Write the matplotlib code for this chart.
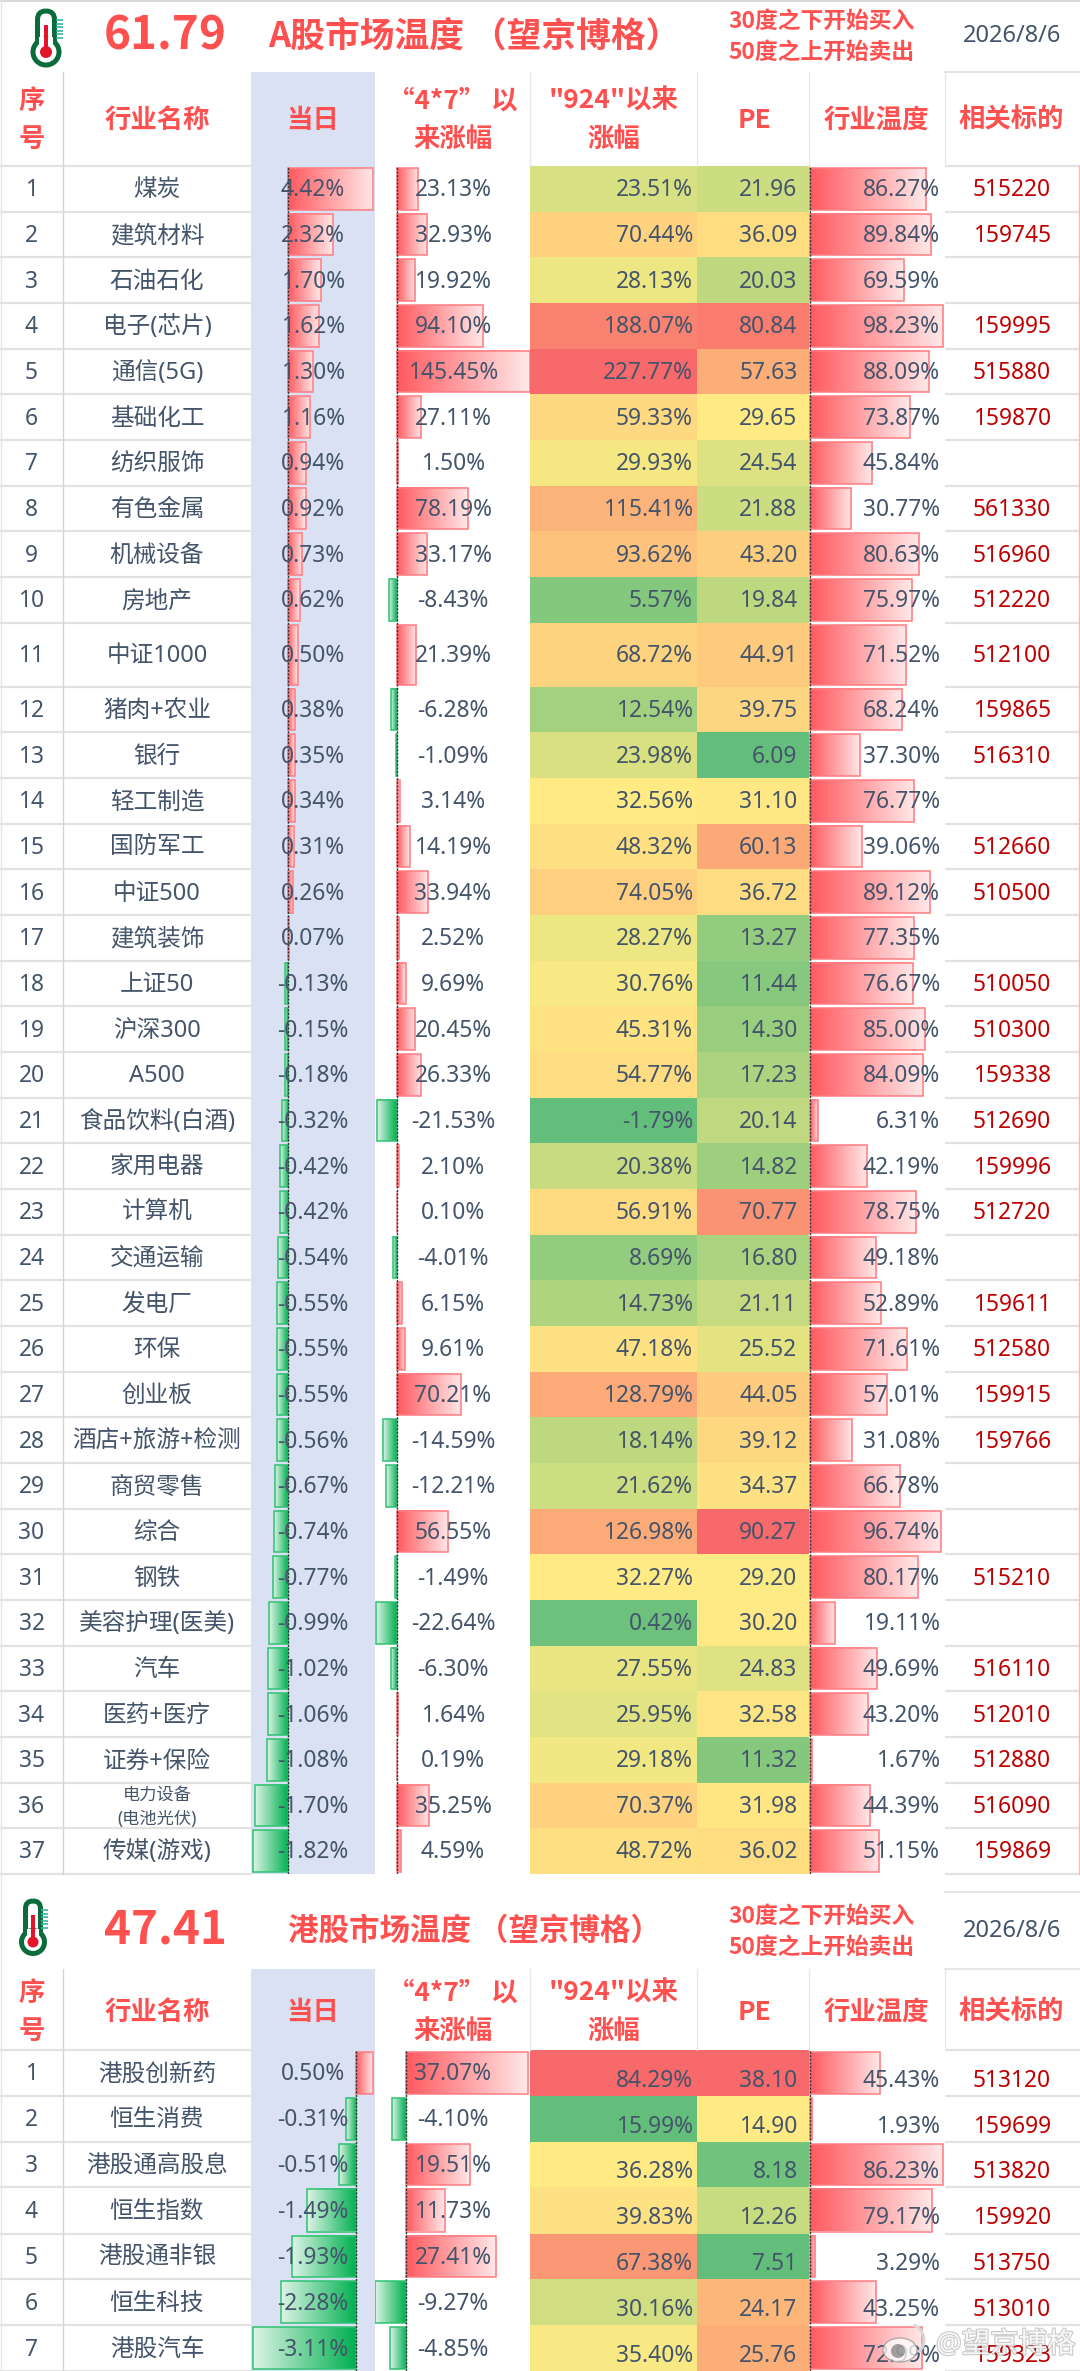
import numpy as np
import matplotlib
matplotlib.use("Agg")
import matplotlib.pyplot as plt
from matplotlib.colors import LinearSegmentedColormap, TwoSlopeNorm
from matplotlib.patches import Rectangle, Circle, FancyBboxPatch, Ellipse, Arc
import matplotlib.patheffects as pe

FONT = ['Noto Sans', 'Noto Sans CJK SC', 'DejaVu Sans']
BOLD = ['Noto Sans CJK SC', 'DejaVu Sans']
plt.rcParams['font.family'] = FONT

# ---------- data: A shares ----------
a_names = ['煤炭','建筑材料','石油石化','电子(芯片)','通信(5G)','基础化工','纺织服饰','有色金属','机械设备','房地产',
           '中证1000','猪肉+农业','银行','轻工制造','国防军工','中证500','建筑装饰','上证50','沪深300','A500',
           '食品饮料(白酒)','家用电器','计算机','交通运输','发电厂','环保','创业板','酒店+旅游+检测','商贸零售','综合',
           '钢铁','美容护理(医美)','汽车','医药+医疗','证券+保险','电力设备\n(电池光伏)','传媒(游戏)']
a_day = [4.42,2.32,1.70,1.62,1.30,1.16,0.94,0.92,0.73,0.62,0.50,0.38,0.35,0.34,0.31,0.26,0.07,-0.13,-0.15,-0.18,
         -0.32,-0.42,-0.42,-0.54,-0.55,-0.55,-0.55,-0.56,-0.67,-0.74,-0.77,-0.99,-1.02,-1.06,-1.08,-1.70,-1.82]
a_47 = [23.13,32.93,19.92,94.10,145.45,27.11,1.50,78.19,33.17,-8.43,21.39,-6.28,-1.09,3.14,14.19,33.94,2.52,9.69,20.45,26.33,
        -21.53,2.10,0.10,-4.01,6.15,9.61,70.21,-14.59,-12.21,56.55,-1.49,-22.64,-6.30,1.64,0.19,35.25,4.59]
a_924 = [23.51,70.44,28.13,188.07,227.77,59.33,29.93,115.41,93.62,5.57,68.72,12.54,23.98,32.56,48.32,74.05,28.27,30.76,45.31,54.77,
         -1.79,20.38,56.91,8.69,14.73,47.18,128.79,18.14,21.62,126.98,32.27,0.42,27.55,25.95,29.18,70.37,48.72]
a_pe = [21.96,36.09,20.03,80.84,57.63,29.65,24.54,21.88,43.20,19.84,44.91,39.75,6.09,31.10,60.13,36.72,13.27,11.44,14.30,17.23,
        20.14,14.82,70.77,16.80,21.11,25.52,44.05,39.12,34.37,90.27,29.20,30.20,24.83,32.58,11.32,31.98,36.02]
a_temp = [86.27,89.84,69.59,98.23,88.09,73.87,45.84,30.77,80.63,75.97,71.52,68.24,37.30,76.77,39.06,89.12,77.35,76.67,85.00,84.09,
          6.31,42.19,78.75,49.18,52.89,71.61,57.01,31.08,66.78,96.74,80.17,19.11,49.69,43.20,1.67,44.39,51.15]
a_codes = ['515220','159745','','159995','515880','159870','','561330','516960','512220','512100','159865','516310','','512660','510500','',
           '510050','510300','159338','512690','159996','512720','','159611','512580','159915','159766','','','515210','','516110','512010','512880','516090','159869']

# ---------- data: Hong Kong ----------
h_names = ['港股创新药','恒生消费','港股通高股息','恒生指数','港股通非银','恒生科技','港股汽车']
h_day = [0.50,-0.31,-0.51,-1.49,-1.93,-2.28,-3.11]
h_47 = [37.07,-4.10,19.51,11.73,27.41,-9.27,-4.85]
h_924 = [84.29,15.99,36.28,39.83,67.38,30.16,35.40]
h_pe = [38.10,14.90,8.18,12.26,7.51,24.17,25.76]
h_temp = [45.43,1.93,86.23,79.17,3.29,43.25,72.99]
h_codes = ['513120','159699','513820','159920','513750','513010','159323']

W, H = 1080, 2371
TXT = '#44546A'; RED = '#FF5050'; CODE = '#C00000'; GRID = '#E2E2E2'
X = dict(seq=63, name=251, day=375, r47=530, r924=697, pe=809, temp=945)

fig = plt.figure(figsize=(W/100, H/100), dpi=100, facecolor='white')
def px_axes(zorder):
    a = fig.add_axes([0, 0, 1, 1], zorder=zorder)
    a.set_xlim(0, W); a.set_ylim(H, 0); a.axis('off')
    return a
bg = px_axes(0)
tx = px_axes(5)

heat = LinearSegmentedColormap.from_list('rag', ['#63BE7B', '#FFEB84', '#F8696B'])
red_g = LinearSegmentedColormap.from_list('r', ['#FF5A60', '#FFE9E9'])
grn_g = LinearSegmentedColormap.from_list('g', ['#00B050', '#DDF4E6'])
GR = np.linspace(0, 1, 256).reshape(1, -1)

def thermo(cx, top, bulb_y, r, tw, stem_top, rb, tick_x, tick_top, tick_bot):
    g = '#0B6B3A'
    tx.add_patch(FancyBboxPatch((cx-tw/2+0.01, top), tw-0.02, bulb_y-top, boxstyle=f'round,pad=0,rounding_size={tw/2}',
                                fc='white', ec=g, lw=3.6, zorder=2))
    tx.add_patch(Circle((cx, bulb_y), r, fc='white', ec=g, lw=3.6, zorder=3))
    tx.add_patch(Rectangle((cx-tw/2+1.5, bulb_y-r-2), tw-3, r, fc='white', ec='none', zorder=4))
    tx.add_patch(Rectangle((cx-1.7, stem_top), 3.4, bulb_y-stem_top, fc='#E3152B', ec='none', zorder=5))
    tx.add_patch(Circle((cx, bulb_y), rb, fc='#E3152B', ec='none', zorder=5))
    for y in np.linspace(tick_top, tick_bot, 6):
        tx.plot([tick_x, tick_x+7], [y, y], color='#35B5A5', lw=1.2, zorder=2, solid_capstyle='butt')

def bar_col(x0, x1, axis_x, pxper, values, edges):
    a = fig.add_axes([x0/W, 1-edges[-1]/H, (x1-x0)/W, (edges[-1]-edges[0])/H], zorder=2)
    a.patch.set_alpha(0); a.axis('off')
    for i, v in enumerate(values):
        y0, y1 = edges[i]+2, edges[i+1]-2
        cm = red_g if v >= 0 else grn_g
        a.imshow(GR, extent=[0, v, y1, y0], aspect='auto', cmap=cm, vmin=0, vmax=1, interpolation='bilinear', zorder=1)
        a.barh((y0+y1)/2, v, height=y1-y0, fc='none', ec='#FF7C82' if v >= 0 else '#2FC272', lw=1.1, zorder=2)
    a.set_xlim((x0-axis_x)/pxper, (x1-axis_x)/pxper)
    a.set_ylim(edges[-1], edges[0])
    a.axvline(0, color='#333333', lw=1.0, ls=(0, (1.6, 1.0)), zorder=3)
    return a

def heat_col(x0, x1, values, edges):
    v = np.array(values).reshape(-1, 1)
    norm = TwoSlopeNorm(vmin=v.min(), vcenter=np.median(v), vmax=v.max())
    bg.pcolormesh([x0, x1], edges, v, cmap=heat, norm=norm, shading='flat', linewidth=0, zorder=1)

def section(top, head_bot, edges, score, title, title_fs, ty, rule_y, names, day, r47, r924, pe_, temp, codes,
            scales, val_dy, hdr1, hdr2, hdrc, date_line):
    n = len(names)
    bottom = edges[-1]
    bg.add_patch(Rectangle((X['name'], top), X['day']-X['name'], bottom-top, fc='#D9E1F2', ec='none', zorder=0.5))
    for e in edges:
        for x0, x1 in ((0, X['name']), (X['temp'], W)):
            bg.plot([x0, x1], [e, e], color=GRID, lw=1.6, zorder=1.5, solid_capstyle='butt')
    bg.plot([X['seq']]*2, [top, bottom], color='#D4D4D4', lw=1, zorder=1.5)
    for k in ('r47', 'r924', 'pe', 'temp'):
        bg.plot([X[k]]*2, [top, head_bot], color='#E8E8E8', lw=1, zorder=1.5)
    bg.plot([X['temp'], W], [date_line, date_line], color=GRID, lw=1.2, zorder=1.5)
    bg.plot([X['temp'], W], [top, top], color=GRID, lw=1.2, zorder=1.5)
    heat_col(X['r47'], X['r924'], r924, edges)
    heat_col(X['r924'], X['pe'], pe_, edges)
    bar_col(X['name'], X['day'], *scales[0], day, edges)
    bar_col(X['day'], X['r47'], *scales[1], r47, edges)
    bar_col(X['pe'], X['temp'], *scales[2], temp, edges)
    # title row
    tb = dict(color=RED, fontweight='bold', family=BOLD, va='center')
    tx.text(165, ty, score, fontsize=33, ha='center', **tb)
    tx.text(474, ty, title, fontsize=title_fs, ha='center', **tb)
    tx.text(728, rule_y[0], '30度之下开始买入', fontsize=16.4, ha='left', **tb)
    tx.text(728, rule_y[1], '50度之上开始卖出', fontsize=16.4, ha='left', **tb)
    tx.text(1012, ty, '2026/8/6', color=TXT, fontsize=17, ha='center', va='center')
    # header
    hk = dict(color=RED, fontsize=19, fontweight='bold', family=BOLD, ha='center', va='center')
    tx.text(31.5, hdr1+1, '序', **hk); tx.text(31.5, hdr2+1, '号', **hk)
    tx.text(157, hdrc+1, '行业名称', **hk)
    tx.text(313, hdrc+1, '当日', **hk)
    tx.text(453, hdr1+1, '“4*7” 以', **hk); tx.text(453, hdr2+1, '来涨幅', **hk)
    tx.text(614, hdr1+1, '"924"以来', **hk); tx.text(614, hdr2+1, '涨幅', **hk)
    tx.text(754, hdrc+1, 'PE', **hk)
    tx.text(876, hdrc+1, '行业温度', **hk)
    tx.text(1011, hdrc+1, '相关标的', **hk)
    # rows
    fs = 16.4; nfs = 17
    for i in range(n):
        yc = (edges[i]+edges[i+1])/2 + 1.5
        yv = yc + val_dy
        tx.text(31.5, yc, str(i+1), color=TXT, fontsize=fs, ha='center', va='center')
        if '\n' in names[i]:
            a_, b_ = names[i].split('\n')
            tx.text(157, yc-12, a_, color=TXT, fontsize=12.4, ha='center', va='center')
            tx.text(157, yc+12, b_, color=TXT, fontsize=12.4, ha='center', va='center')
        else:
            tx.text(157, yc, names[i], color=TXT, fontsize=nfs, ha='center', va='center')
        tx.text(313, yc, f'{day[i]:.2f}%', color=TXT, fontsize=fs, ha='center', va='center')
        tx.text(453, yc, f'{r47[i]:.2f}%', color=TXT, fontsize=fs, ha='center', va='center')
        tx.text(693, yv, f'{r924[i]:.2f}%', color=TXT, fontsize=fs, ha='right', va='center')
        tx.text(797.5, yv, f'{pe_[i]:.2f}', color=TXT, fontsize=fs, ha='right', va='center')
        tx.text(940, yv, f'{temp[i]:.2f}%', color=TXT, fontsize=fs, ha='right', va='center')
        if codes[i]:
            tx.text(1012, yv, codes[i], color=CODE, fontsize=fs, ha='center', va='center')

# row edges (layout)
a_heights = [45.67]*10 + [64] + [45.67]*24 + [45.3, 45.7]
a_edges = list(166 + np.cumsum([0] + a_heights))
h_edges = [2050, 2096, 2142, 2187, 2233.5, 2279, 2325, 2371]

section(72, 166, a_edges, '61.79', 'A股市场温度 （望京博格）', 25, 36, (21, 52),
        a_names, a_day, a_47, a_924, a_pe, a_temp, a_codes,
        [(288, 19.3), (396.7, 0.914), (809.5, 1.355)], 0, 100, 138, 119, 72)
section(1969, 2050, h_edges, '47.41', '港股市场温度 （望京博格）', 22, 1931, (1916, 1947),
        h_names, h_day, h_47, h_924, h_pe, h_temp, h_codes,
        [(356, 33.0), (406, 3.3), (809.5, 1.545)], 6.5, 1992, 2030, 2011, 1892)

# outer lines
bg.plot([0, W], [1, 1], color='#D9D9D9', lw=1.5, zorder=1.5)
bg.plot([0.5, 0.5], [0, H], color='#E6E6E6', lw=1, zorder=1.5)
bg.plot([1079, 1079], [166, a_edges[-1]], color='#FFB8B8', lw=1, zorder=1.5)

thermo(46, 11, 52, 13, 17, 25, 6, 56, 20, 38)
thermo(33, 1901, 1942, 11.5, 15, 1915, 5.5, 41, 1910, 1928)

# watermark
wm = [pe.withStroke(linewidth=1.6, foreground='#8A8A8A', alpha=0.45)]
tx.text(936, 2345, '@望京博格', color='white', alpha=0.85, fontsize=20.5, ha='left', va='center', path_effects=wm, zorder=8)
tx.add_patch(Ellipse((900, 2350), 34, 24, fc='white', ec='#9A9A9A', lw=1, alpha=0.75, zorder=8))
tx.add_patch(Circle((898, 2351), 7, fc='#666666', ec='none', alpha=0.6, zorder=8))
tx.add_patch(Arc((908, 2340), 32, 32, theta1=-70, theta2=50, ec='#D8D8D8', lw=2.2, zorder=8))

fig.savefig('out.png', dpi=100, facecolor='white')
